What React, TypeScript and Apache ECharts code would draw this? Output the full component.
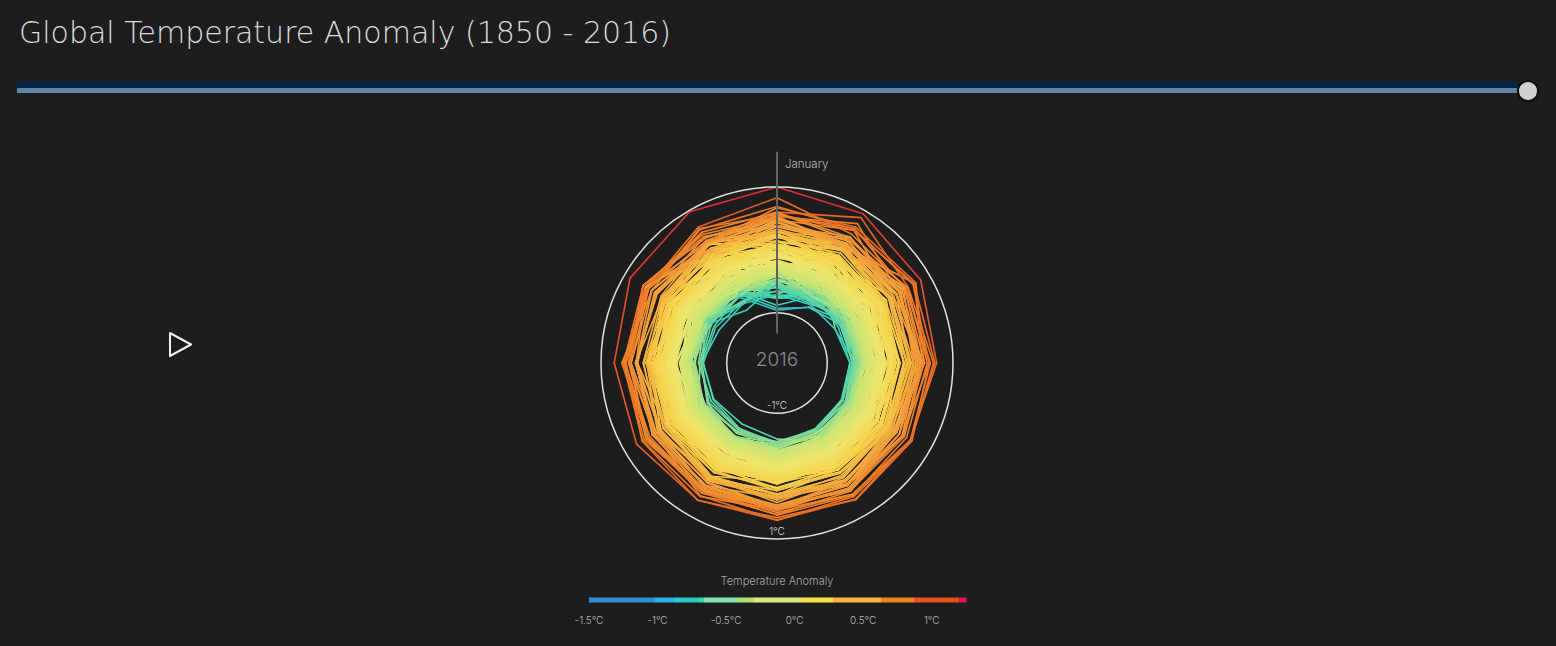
import React, { useEffect, useRef } from "react";
import * as echarts from "echarts";

const TITLE = "Global Temperature Anomaly (1850 - 2016)";
const FIRST_YEAR = 1850;
const MONTH_LABEL = "January";

// Monthly global temperature anomaly (°C), one row per year from 1850, Jan..Dec
const ANOMALY: number[][] = [
  [-.70,-.29,-.73,-.56,-.33,-.21,-.13,-.24,-.44,-.45,-.19,-.26],
  [-.30,-.36,-.48,-.44,-.30,-.20,-.21,-.16,-.10,-.06,-.02,-.04],
  [-.31,-.48,-.51,-.55,-.17,-.09,-.05,-.08,-.16,-.09,-.17,.01],
  [-.18,-.34,-.24,-.29,-.27,-.15,-.10,-.16,-.29,-.43,-.46,-.33],
  [-.30,-.32,-.30,-.42,-.29,-.20,-.21,-.17,-.22,-.28,-.35,-.42],
  [-.24,-.40,-.38,-.31,-.27,-.25,-.20,-.22,-.27,-.32,-.38,-.56],
  [-.30,-.52,-.39,-.36,-.35,-.20,-.16,-.23,-.32,-.39,-.36,-.25],
  [-.19,-.34,-.56,-.60,-.55,-.40,-.38,-.41,-.53,-.59,-.59,-.50],
  [-.60,-.72,-.39,-.25,-.34,-.28,-.28,-.26,-.35,-.33,-.55,-.36],
  [-.34,-.24,-.06,-.18,-.32,-.31,-.26,-.23,-.36,-.37,-.36,-.56],
  [-.39,-.56,-.55,-.43,-.33,-.30,-.25,-.28,-.32,-.42,-.42,-.46],
  [-.75,-.48,-.39,-.45,-.52,-.27,-.26,-.28,-.32,-.41,-.51,-.52],
  [-.93,-.78,-.60,-.48,-.47,-.41,-.40,-.44,-.42,-.48,-.52,-.72],
  [-.28,-.25,-.35,-.40,-.52,-.39,-.30,-.31,-.37,-.33,-.31,-.28],
  [-.76,-.50,-.46,-.58,-.47,-.33,-.29,-.33,-.43,-.48,-.53,-.51],
  [-.24,-.54,-.52,-.23,-.30,-.30,-.28,-.27,-.30,-.35,-.36,-.31],
  [-.22,-.26,-.48,-.41,-.39,-.24,-.20,-.31,-.33,-.41,-.37,-.45],
  [-.60,-.29,-.62,-.26,-.31,-.22,-.20,-.27,-.28,-.38,-.41,-.52],
  [-.77,-.53,-.34,-.32,-.25,-.21,-.16,-.20,-.24,-.30,-.36,-.27],
  [-.26,-.07,-.40,-.33,-.30,-.24,-.25,-.24,-.26,-.30,-.33,-.40],
  [-.33,-.42,-.46,-.31,-.23,-.20,-.21,-.24,-.30,-.36,-.42,-.51],
  [-.56,-.64,-.25,-.28,-.31,-.25,-.23,-.27,-.34,-.43,-.44,-.43],
  [-.58,-.43,-.44,-.30,-.26,-.20,-.19,-.21,-.23,-.25,-.38,-.46],
  [-.32,-.49,-.38,-.33,-.36,-.26,-.23,-.26,-.29,-.33,-.41,-.41],
  [-.26,-.46,-.57,-.52,-.46,-.36,-.30,-.30,-.37,-.38,-.46,-.42],
  [-.40,-.66,-.57,-.48,-.34,-.32,-.29,-.31,-.33,-.39,-.47,-.37],
  [-.32,-.37,-.46,-.48,-.40,-.35,-.32,-.32,-.40,-.42,-.53,-.45],
  [-.37,-.24,-.21,-.16,-.09,-.05,.01,-.04,.02,.01,.00,.02],
  [.14,.22,.16,.09,.00,-.04,-.08,-.08,-.10,-.10,-.14,-.11],
  [-.32,-.26,-.20,-.28,-.34,-.29,-.26,-.29,-.31,-.38,-.40,-.52],
  [-.22,-.22,-.26,-.34,-.25,-.31,-.23,-.19,-.24,-.35,-.43,-.37],
  [-.37,-.29,-.20,-.11,-.07,-.27,-.20,-.24,-.28,-.35,-.37,-.23],
  [.09,-.02,-.10,-.45,-.33,-.42,-.35,-.24,-.27,-.42,-.39,-.54],
  [-.46,-.58,-.42,-.36,-.30,-.21,-.20,-.28,-.36,-.38,-.40,-.36],
  [-.40,-.36,-.59,-.60,-.52,-.48,-.44,-.37,-.39,-.42,-.51,-.47],
  [-.88,-.56,-.51,-.54,-.49,-.45,-.36,-.31,-.29,-.30,-.24,-.23],
  [-.60,-.62,-.45,-.32,-.36,-.37,-.23,-.33,-.29,-.37,-.39,-.48],
  [-.77,-.60,-.47,-.50,-.45,-.41,-.37,-.43,-.40,-.48,-.38,-.56],
  [-.66,-.51,-.57,-.40,-.40,-.32,-.22,-.22,-.22,-.13,-.16,-.24],
  [-.26,-.16,-.12,-.08,-.15,-.19,-.22,-.26,-.30,-.32,-.35,-.44],
  [-.49,-.52,-.52,-.48,-.49,-.42,-.38,-.45,-.44,-.38,-.51,-.40],
  [-.55,-.59,-.41,-.44,-.36,-.34,-.30,-.29,-.30,-.35,-.54,-.34],
  [-.59,-.41,-.58,-.52,-.49,-.45,-.50,-.41,-.42,-.39,-.57,-.59],
  [-.96,-.77,-.50,-.52,-.51,-.43,-.36,-.38,-.40,-.39,-.40,-.45],
  [-.58,-.47,-.42,-.51,-.46,-.52,-.46,-.45,-.46,-.38,-.45,-.47],
  [-.58,-.67,-.48,-.43,-.45,-.43,-.37,-.35,-.33,-.34,-.40,-.41],
  [-.32,-.30,-.36,-.34,-.25,-.18,-.10,-.17,-.17,-.18,-.35,-.27],
  [-.27,-.26,-.28,-.15,-.14,-.20,-.18,-.23,-.27,-.31,-.37,-.33],
  [-.17,-.42,-.63,-.48,-.49,-.42,-.41,-.40,-.42,-.47,-.55,-.48],
  [-.33,-.58,-.50,-.38,-.43,-.36,-.27,-.19,-.12,-.18,-.10,-.49],
  [-.42,-.33,-.14,-.20,-.21,-.16,-.18,-.17,-.17,-.10,-.25,-.31],
  [-.31,-.38,-.21,-.26,-.30,-.26,-.27,-.30,-.30,-.36,-.29,-.34],
  [-.26,-.23,-.40,-.44,-.45,-.47,-.44,-.46,-.46,-.48,-.53,-.58],
  [-.35,-.20,-.41,-.55,-.55,-.57,-.52,-.60,-.63,-.63,-.67,-.68],
  [-.65,-.61,-.63,-.60,-.59,-.56,-.54,-.58,-.59,-.55,-.48,-.69],
  [-.50,-.70,-.50,-.48,-.47,-.42,-.36,-.35,-.35,-.34,-.23,-.31],
  [-.34,-.39,-.39,-.23,-.41,-.30,-.31,-.26,-.36,-.32,-.44,-.31],
  [-.54,-.67,-.56,-.61,-.61,-.59,-.52,-.53,-.46,-.38,-.58,-.45],
  [-.49,-.42,-.63,-.57,-.54,-.55,-.50,-.57,-.55,-.60,-.64,-.58],
  [-.72,-.56,-.67,-.64,-.62,-.57,-.55,-.44,-.46,-.50,-.42,-.70],
  [-.46,-.52,-.51,-.49,-.50,-.52,-.48,-.51,-.52,-.60,-.74,-.71],
  [-.71,-.73,-.73,-.64,-.60,-.58,-.53,-.54,-.48,-.41,-.36,-.42],
  [-.38,-.26,-.45,-.31,-.33,-.35,-.59,-.68,-.64,-.62,-.47,-.47],
  [-.46,-.52,-.54,-.42,-.47,-.51,-.43,-.42,-.43,-.41,-.30,-.26],
  [-.07,-.22,-.29,-.33,-.29,-.33,-.30,-.25,-.31,-.28,-.34,-.28],
  [-.24,-.10,-.26,-.18,-.19,-.26,-.13,-.21,-.19,-.27,-.19,-.27],
  [-.20,-.31,-.50,-.39,-.38,-.53,-.43,-.38,-.43,-.38,-.51,-.67],
  [-.57,-.63,-.61,-.53,-.51,-.44,-.29,-.33,-.37,-.57,-.55,-.83],
  [-.53,-.58,-.43,-.47,-.48,-.38,-.36,-.36,-.32,-.18,-.40,-.47],
  [-.16,-.26,-.42,-.26,-.39,-.37,-.37,-.33,-.29,-.33,-.42,-.36],
  [-.16,-.19,-.13,-.30,-.34,-.34,-.31,-.31,-.31,-.40,-.43,-.44],
  [-.03,-.31,-.26,-.34,-.32,-.21,-.11,-.21,-.19,-.11,-.22,-.12],
  [-.39,-.48,-.24,-.31,-.32,-.28,-.27,-.33,-.34,-.30,-.17,-.28],
  [-.28,-.35,-.35,-.43,-.39,-.27,-.31,-.30,-.32,-.16,-.08,-.14],
  [-.27,-.34,-.12,-.32,-.22,-.31,-.26,-.32,-.31,-.35,-.27,-.42],
  [-.42,-.34,-.20,-.24,-.27,-.36,-.25,-.17,-.16,-.17,-.07,-.03],
  [.04,-.05,.00,-.19,-.25,-.20,-.23,-.11,-.11,-.09,-.03,-.18],
  [-.22,-.17,-.36,-.25,-.23,-.24,-.18,-.23,-.10,-.05,-.09,-.37],
  [-.07,-.10,-.34,-.24,-.27,-.33,-.17,-.16,-.17,-.15,-.11,-.12],
  [-.35,-.61,-.30,-.40,-.38,-.38,-.34,-.28,-.23,-.18,-.12,-.49],
  [-.25,-.16,-.04,-.19,-.22,-.13,-.16,-.11,-.11,-.11,.04,-.15],
  [-.05,-.18,-.06,-.18,-.15,-.06,-.01,-.06,-.09,-.03,-.13,-.06],
  [.09,-.20,-.20,-.06,-.17,-.21,-.20,-.18,-.05,-.08,-.23,-.25],
  [-.27,-.35,-.35,-.23,-.26,-.33,-.20,-.16,-.22,-.25,-.31,-.41],
  [-.21,-.03,-.24,-.23,-.07,-.10,-.09,-.08,-.14,-.11,-.05,-.11],
  [-.33,.03,-.22,-.37,-.26,-.24,-.15,-.16,-.16,-.10,-.28,-.20],
  [-.24,-.35,-.19,-.19,-.12,-.16,-.07,-.07,-.09,-.07,-.09,-.06],
  [-.10,-.02,-.21,-.11,-.06,-.05,-.02,.03,.07,.04,.04,-.07],
  [.05,.01,.07,.03,-.10,-.09,-.05,-.02,.03,.08,.03,-.11],
  [-.05,-.06,-.14,-.08,-.07,-.05,-.02,-.01,-.03,-.04,.08,.19],
  [-.04,.06,.06,.05,.03,.07,.10,.07,.14,.10,.16,.29],
  [.09,.18,.11,.16,.17,.12,.20,.12,.00,.29,.19,.14],
  [.24,.03,.05,.07,.05,.04,.05,.00,.00,.05,.03,.06],
  [-.04,.04,-.06,.07,.02,-.03,.08,.05,.09,.26,.20,.22],
  [.30,.17,.15,.13,.14,.15,.18,.21,.25,.25,.13,.03],
  [.09,-.04,.02,.15,.03,.00,.08,.28,.20,.16,.02,-.10],
  [.04,.03,-.03,.05,-.14,-.15,-.06,-.10,-.02,-.02,-.05,-.30],
  [-.10,-.14,-.02,.01,-.09,.00,-.03,-.04,-.05,.07,.02,-.10],
  [.08,-.14,-.25,-.11,-.04,-.08,-.11,-.09,-.07,-.09,-.12,-.21],
  [.05,-.16,-.03,-.11,-.10,-.19,-.10,-.08,-.07,-.06,-.08,-.19],
  [-.30,-.27,-.13,-.21,-.13,-.09,-.11,-.17,-.09,-.21,-.32,-.16],
  [-.34,-.44,-.17,-.09,.01,-.03,.02,.08,.09,.07,-.03,.07],
  [.09,.10,-.11,.01,-.04,-.02,.03,.03,.05,-.04,-.14,-.01],
  [.07,.13,.10,.15,.09,.09,.04,.06,.08,.05,-.02,.03],
  [-.21,-.05,-.17,-.14,-.16,-.15,-.18,-.12,-.06,-.04,.04,-.19],
  [.05,-.20,-.35,-.21,-.20,-.14,-.11,-.04,-.11,-.09,-.25,-.28],
  [-.16,-.29,-.23,-.19,-.22,-.11,-.13,-.22,-.16,-.18,-.20,-.13],
  [-.06,-.03,-.05,.02,.05,.11,.01,.12,.06,.04,.09,.19],
  [.25,.14,.05,.02,.04,-.04,.05,-.02,.00,.03,.04,.01],
  [.05,.04,.09,.06,.02,.05,.02,.00,.01,-.05,-.03,.02],
  [-.03,.14,-.31,-.13,-.08,-.03,-.05,.01,.03,.01,-.08,.10],
  [.04,.12,.09,.10,.09,.10,.02,.02,.02,.00,.03,-.08],
  [.05,.07,.05,.00,-.03,.04,.03,.03,.01,.01,.04,.01],
  [-.01,.12,-.07,-.07,-.06,.02,.10,.13,.17,.14,.12,-.04],
  [-.08,-.14,-.20,-.25,-.22,-.14,-.20,-.27,-.28,-.31,-.21,-.26],
  [-.07,-.15,-.12,-.19,-.10,-.06,-.11,-.07,-.08,-.06,-.09,-.07],
  [-.13,-.06,.02,-.09,-.06,.00,.03,-.05,-.01,-.10,-.07,-.11],
  [-.08,-.13,.06,-.03,.06,-.06,-.03,-.01,-.04,.07,-.02,-.04],
  [-.24,-.21,.10,-.09,-.13,-.06,-.09,-.04,-.06,.02,-.03,-.13],
  [-.09,-.09,.03,.14,.12,.05,.01,.07,.09,.10,.13,.16],
  [.07,.16,.00,.03,-.04,.00,-.01,-.07,.06,.02,-.04,-.07],
  [-.03,-.16,-.15,-.05,-.06,-.12,-.06,-.04,-.04,-.05,-.01,-.08],
  [-.25,-.20,.00,.00,.01,.03,.04,.09,.02,.04,.05,.13],
  [.23,.28,.25,.22,.20,.16,.11,.10,.05,.05,.05,-.07],
  [-.18,-.24,-.11,-.07,-.08,-.04,-.05,.02,-.06,-.12,-.04,-.06],
  [.06,.03,.07,-.01,.04,-.04,-.07,-.16,-.05,-.10,-.15,-.13],
  [-.04,-.15,-.21,-.09,-.19,-.13,-.06,-.10,-.05,-.18,-.01,.05],
  [.07,.13,.16,.22,.22,.21,.20,.12,.08,.08,.20,.10],
  [.09,.12,.14,.07,.03,-.04,.03,-.13,.04,.02,.15,.08],
  [.02,-.08,.12,.06,.05,.11,.07,.17,.21,.22,.26,.43],
  [.21,.30,.19,.27,.28,.20,.19,.21,.19,.16,.29,.18],
  [.44,.37,.40,.29,.23,.29,.29,.34,.22,.18,.21,.39],
  [.02,.10,.00,.08,.13,.05,.13,.09,.14,.14,.16,.38],
  [.50,.40,.40,.31,.32,.22,.23,.33,.35,.18,.31,.16],
  [.22,.07,.21,.07,.25,.04,.09,.15,.18,.11,.11,-.05],
  [.15,-.06,.12,.09,.10,.11,.01,.17,.10,.11,.05,.12],
  [.24,.27,.17,.15,.12,.12,.06,.10,.05,.13,.14,.12],
  [.20,.37,.16,.23,.26,.31,.42,.31,.39,.32,.23,.42],
  [.53,.36,.45,.41,.40,.35,.30,.30,.29,.23,.17,.27],
  [.12,.27,.27,.27,.17,.15,.30,.28,.28,.28,.16,.30],
  [.33,.34,.73,.51,.40,.42,.33,.36,.24,.42,.45,.39],
  [.38,.46,.34,.48,.39,.50,.49,.41,.39,.27,.31,.29],
  [.44,.33,.32,.21,.23,.16,.04,.05,-.04,.05,.01,.15],
  [.29,.31,.29,.26,.26,.22,.23,.18,.11,.20,.05,.21],
  [.26,.07,.29,.34,.28,.38,.28,.29,.36,.42,.44,.36],
  [.53,.76,.44,.44,.30,.45,.48,.50,.35,.45,.43,.30],
  [.19,.41,.27,.32,.27,.26,.35,.32,.23,.18,.29,.28],
  [.30,.39,.48,.38,.45,.54,.48,.55,.60,.63,.62,.60],
  [.60,.87,.61,.69,.66,.65,.70,.64,.45,.45,.41,.52],
  [.48,.64,.33,.37,.32,.37,.38,.33,.35,.33,.33,.45],
  [.28,.50,.45,.49,.34,.35,.33,.37,.33,.24,.24,.24],
  [.37,.40,.55,.50,.45,.49,.55,.52,.49,.44,.61,.41],
  [.67,.70,.75,.54,.51,.51,.53,.47,.49,.44,.50,.39],
  [.60,.51,.50,.50,.52,.43,.49,.59,.58,.67,.50,.67],
  [.56,.67,.55,.55,.35,.43,.35,.45,.46,.56,.66,.49],
  [.59,.47,.60,.59,.58,.63,.62,.55,.64,.64,.66,.52],
  [.39,.52,.45,.43,.38,.54,.50,.56,.54,.62,.58,.70],
  [.83,.57,.57,.62,.51,.44,.46,.46,.45,.45,.40,.38],
  [.14,.28,.53,.37,.37,.38,.49,.39,.42,.52,.51,.39],
  [.45,.38,.40,.48,.45,.55,.61,.59,.61,.52,.56,.45],
  [.55,.64,.72,.71,.66,.61,.58,.55,.47,.54,.61,.31],
  [.29,.30,.40,.47,.40,.45,.47,.47,.42,.45,.30,.39],
  [.29,.26,.38,.53,.54,.54,.48,.54,.58,.61,.61,.29],
  [.48,.44,.45,.44,.50,.51,.51,.54,.57,.56,.66,.56],
  [.52,.34,.57,.64,.65,.61,.54,.65,.67,.65,.56,.65],
  [.69,.66,.70,.62,.68,.71,.66,.72,.78,.79,.90,.98],
  [1.00,.94,.84,.74,.65,.70,.70,.72,.68,.60,.56,.59],
];

const RING_VALUES = [-1, 1];
const RING_LABELS = ["-1°C", "1°C"];
const JANUARY_LINE = [[-1.32, 0, 1.55, 0]];

const LEGEND_TITLE = "Temperature Anomaly";
const LEGEND_MIN = -1.5;
const LEGEND_MAX = 1.25;
const LEGEND_PIECES = [
  [-1.5, -1.02], [-1.02, -0.88], [-0.88, -0.7], [-0.7, -0.66], [-0.66, -0.42], [-0.42, -0.3],
  [-0.3, 0.05], [0.05, 0.28], [0.28, 0.63], [0.63, 0.87], [0.87, 1.2], [1.2, 1.25],
];
const LEGEND_COLORS = [
  "#2b90d6", "#2bb0ea", "#2fc7c3", "#3fd6a2", "#86e0b6", "#aee072",
  "#dbe976", "#f7df45", "#f7b444", "#f08424", "#e0521a", "#e8154d",
];
const SCALE_COLORS = [
  "#2b90d6", "#2ba2e2", "#2bbce0", "#38d0b8", "#c6e676", "#f0e66c",
  "#f8d24a", "#f4a03a", "#ec6e22", "#dc2e36", "#cc1048",
];

export default function App() {
  const ref = useRef<HTMLDivElement>(null);

  useEffect(() => {
    if (!ref.current) return;
    const chart = echarts.init(ref.current, undefined, { renderer: "svg" });

    const segments: number[][] = [];
    ANOMALY.forEach((row, y) => {
      row.forEach((v, m) => {
        let next: number;
        if (m < 11) next = row[m + 1];
        else if (y < ANOMALY.length - 1) next = ANOMALY[y + 1][0];
        else return;
        segments.push([v, m, next, m + 1, (v + next) / 2]);
      });
    });

    const lastYear = String(FIRST_YEAR + ANOMALY.length - 1);
    const font = "Inter, Lato, sans-serif";

    const segmentItem = (api: any, stroke: string, lineWidth: number) => {
      const p1 = api.coord([api.value(0), api.value(1)]);
      const p2 = api.coord([api.value(2), api.value(3)]);
      return {
        type: "line",
        shape: { x1: p1[0], y1: p1[1], x2: p2[0], y2: p2[1] },
        style: { stroke, lineWidth, lineCap: "round" },
      };
    };

    chart.setOption({
      animation: false,
      backgroundColor: "#1d1d1d",
      title: {
        text: TITLE,
        left: 14,
        top: 12,
        textStyle: { color: "#dcdcdc", fontSize: 30, fontWeight: 200, fontFamily: "'DejaVu Sans', sans-serif" },
      },
      polar: { center: [777, 363], radius: 176 },
      angleAxis: {
        type: "value", min: 0, max: 12, startAngle: 90, clockwise: true,
        axisLine: { show: false }, axisTick: { show: false }, axisLabel: { show: false }, splitLine: { show: false },
      },
      radiusAxis: {
        type: "value", min: -1.8, max: 1,
        axisLine: { show: false }, axisTick: { show: false }, axisLabel: { show: false }, splitLine: { show: false },
      },
      grid: { left: 589, width: 377, top: 597, height: 6 },
      xAxis: {
        type: "value", min: LEGEND_MIN, max: LEGEND_MAX, interval: 0.5,
        axisLine: { show: false }, axisTick: { show: false }, splitLine: { show: false },
        axisLabel: {
          color: "#bbbbbb", fontSize: 10, fontFamily: font, fontWeight: 300, margin: 12,
          showMaxLabel: false,
          formatter: (v: number) => `${v}°C`,
        },
      },
      yAxis: { type: "value", min: 0, max: 1, show: false },
      visualMap: {
        type: "continuous", show: false, seriesIndex: 0, dimension: 4,
        min: LEGEND_MIN, max: LEGEND_MAX, inRange: { color: SCALE_COLORS },
      },
      series: [
        {
          type: "custom",
          coordinateSystem: "polar",
          encode: { radius: 0, angle: 1 },
          data: segments,
          silent: true,
          renderItem: (params: any, api: any) => segmentItem(api, api.visual("color"), 1.6),
          z: 2,
        },
        {
          type: "custom",
          coordinateSystem: "polar",
          encode: { radius: 0, angle: 1 },
          data: RING_VALUES.map((v) => [v, 0]),
          silent: true,
          renderItem: (params: any, api: any) => {
            const c = api.coord([-1.8, 0]);
            const p = api.coord([api.value(0), 0]);
            const b = api.coord([api.value(0), 6]);
            const r = Math.hypot(p[0] - c[0], p[1] - c[1]);
            return {
              type: "group",
              children: [
                { type: "circle", shape: { cx: c[0], cy: c[1], r }, style: { fill: "none", stroke: "#e2e2e2", lineWidth: 1.5 } },
                {
                  type: "text",
                  style: {
                    x: b[0], y: b[1] - 8, text: RING_LABELS[params.dataIndex],
                    fill: "#dddddd", fontSize: 10, fontFamily: font, fontWeight: 300,
                    align: "center", verticalAlign: "middle",
                  },
                },
              ],
            };
          },
          z: 4,
        },
        {
          type: "custom",
          coordinateSystem: "polar",
          encode: { radius: 0, angle: 1 },
          data: JANUARY_LINE,
          silent: true,
          renderItem: (params: any, api: any) => segmentItem(api, "#636363", 2),
          z: 5,
        },
        {
          type: "custom",
          xAxisIndex: 0,
          yAxisIndex: 0,
          data: LEGEND_PIECES,
          silent: true,
          renderItem: (params: any, api: any) => {
            const a = api.coord([api.value(0), 0.5]);
            const b = api.coord([api.value(1), 0.5]);
            return {
              type: "rect",
              shape: { x: a[0], y: a[1] - 2.5, width: b[0] - a[0] + 0.5, height: 5 },
              style: { fill: LEGEND_COLORS[params.dataIndex] },
            };
          },
        },
      ],
      graphic: [
        { type: "rect", shape: { x: 17, y: 81, width: 1500, height: 7 }, style: { fill: "#0a2540" } },
        { type: "rect", shape: { x: 17, y: 88, width: 1500, height: 5 }, style: { fill: "#5c85ac" } },
        { type: "circle", shape: { cx: 1528, cy: 91, r: 10 }, style: { fill: "#cfcfcf", stroke: "#0e0e0e", lineWidth: 2 } },
        {
          type: "polygon",
          shape: { points: [[170, 333], [191, 344.5], [170, 356]] },
          style: { fill: "none", stroke: "#f2f2f2", lineWidth: 2, lineJoin: "round" },
        },
        {
          type: "text", x: 785, y: 164,
          style: { text: MONTH_LABEL, fill: "#b8b8b8", fontSize: 11.5, fontFamily: font, fontWeight: 300, verticalAlign: "middle" },
          z: 10,
        },
        {
          type: "text", x: 777, y: 359,
          style: { text: lastYear, fill: "#8c8c8c", fontSize: 19, fontFamily: font, fontWeight: 300, align: "center", verticalAlign: "middle" },
          z: 10,
        },
        {
          type: "text", x: 777, y: 581,
          style: { text: LEGEND_TITLE, fill: "#aaaaaa", fontSize: 11, fontFamily: font, fontWeight: 300, align: "center", verticalAlign: "middle" },
          z: 10,
        },
      ],
    });

    return () => chart.dispose();
  }, []);

  return (
    <div
      ref={ref}
      style={{ position: "fixed", left: 0, top: 0, width: 1556, height: 646, background: "#1d1d1d" }}
    />
  );
}
